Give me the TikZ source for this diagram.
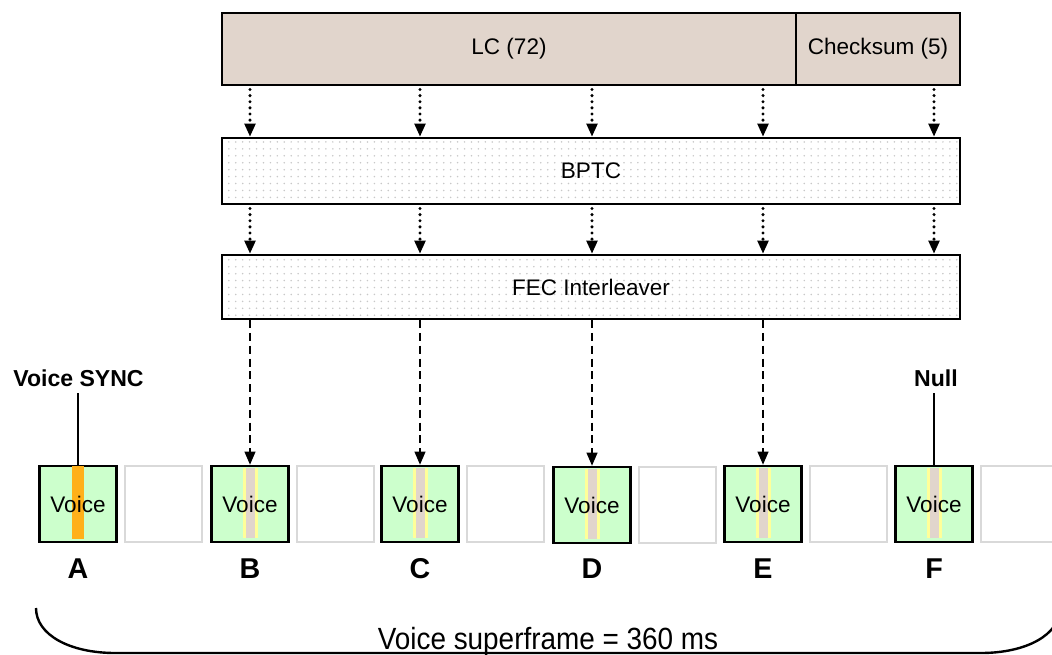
\documentclass[tikz,border=0pt]{standalone}
\usepackage{fontspec}
\setmainfont{Liberation Sans}
\usetikzlibrary{arrows.meta,patterns.meta,calc}
\definecolor{taupe}{HTML}{E1D5CC}
\definecolor{vgreen}{HTML}{CCFFCC}
\definecolor{sorange}{HTML}{FFB01A}
\definecolor{syellow}{HTML}{FFFF99}
\definecolor{lgray}{HTML}{D9D9D9}
\definecolor{dotgray}{HTML}{C8C8C8}
\begin{document}
\begin{tikzpicture}[x=0.75pt,y=-0.75pt,
 every node/.style={inner sep=0pt},
 lbl/.style={font=\fontsize{16.9}{20}\selectfont},
 fieldbox/.style={draw=black,line width=1.7pt,fill=taupe,minimum height=54pt,lbl},
 dotbox/.style={draw=black,line width=1.7pt,pattern={Dots[distance=5.2pt,radius=0.65pt]},pattern color=dotgray,minimum width=553.5pt,lbl},
 voicebox/.style={draw=black,line width=1.7pt,fill=vgreen,minimum width=57.75pt,minimum height=57pt},
 emptybox/.style={draw=lgray,line width=1.7pt,fill=white,minimum width=57.75pt,minimum height=57pt},
 syncstripe/.style={fill=sorange,minimum width=9pt,minimum height=54.5pt,anchor=north},
 nullhalo/.style={fill=syellow,minimum width=11.25pt,minimum height=52.5pt,anchor=north},
 nullstripe/.style={fill=taupe,minimum width=6.75pt,minimum height=52.5pt,anchor=north},
 voicetxt/.style={lbl},
 slotlbl/.style={font=\fontsize{21.5}{24}\selectfont\bfseries,anchor=base},
 calltxt/.style={font=\fontsize{17.3}{20}\selectfont\bfseries,anchor=base},
 dotarrow/.style={line width=2.5pt,line cap=round,dash pattern=on 0pt off 4.6pt,shorten <=2.5pt,-{Triangle[width=8pt,length=10pt]}},
 dasharrow/.style={line width=1.8pt,dash pattern=on 6pt off 3.6pt,-{Triangle[width=8pt,length=10pt]}},
 callout/.style={line width=1.5pt},
 brace/.style={line width=1.8pt}
]
\useasboundingbox (0,0) rectangle (1052,655);
\clip (0,0) rectangle (1052,655);

% top fields
\node[fieldbox,minimum width=430.5pt] (lc) at (509,49) {LC (72)};
\node[fieldbox,minimum width=123pt] (cs) at (878,49) {Checksum (5)};
\node[dotbox,minimum height=49.5pt] (bptc) at (591,171) {BPTC};
\node[dotbox,minimum height=48pt] (fec) at (591,287) {FEC Interleaver};

% voice bursts
\foreach \n/\x/\y in {A/78/504,B/250/504,C/420/504,D/592/505,E/763/504,F/934/504}{
  \node[voicebox] (v\n) at (\x,\y) {};
  \node[emptybox] (g\n) at (\x+85.5,\y) {};
  \node[slotlbl] (l\n) at (\x,578) {\n};
}
\node[syncstripe] (sA) at ([yshift=-0.9pt]vA.north) {};
\foreach \n in {B,C,D,E,F}{
  \node[nullhalo] (h\n) at ([yshift=-2.2pt]v\n.north) {};
  \node[nullstripe] (s\n) at ([yshift=-2.2pt]v\n.north) {};
}
\foreach \n in {A,B,C,D,E,F}{
  \node[voicetxt] (t\n) at (v\n) {Voice};
}

% arrows
\foreach \n in {B,C,D,E}{
  \draw[dotarrow] (lc.south -| v\n.north) -- (bptc.north -| v\n.north);
  \draw[dotarrow] (bptc.south -| v\n.north) -- (fec.north -| v\n.north);
  \draw[dasharrow] (fec.south -| v\n.north) -- (v\n.north);
}
\draw[dotarrow] (cs.south -| vF.north) -- (bptc.north -| vF.north);
\draw[dotarrow] (bptc.south -| vF.north) -- (fec.north -| vF.north);

% callouts
\node[calltxt] (sync) at (78.5,386.5) {Voice SYNC};
\node[calltxt] (null) at (936,386.5) {Null};
\coordinate (syncfoot) at ([yshift=-4.9pt]sync.base);
\coordinate (nullfoot) at ([yshift=-4.9pt]null.base);
\draw[callout] (syncfoot -| vA.north) -- (vA.north);
\draw[callout] (nullfoot -| vF.north) -- (vF.north);

% superframe brace
\draw[brace] (36,608) .. controls (36,635) and (70,653) .. (115,653) -- (981,653) .. controls (1026,653) and (1060,635) .. (1060,608);
\node[anchor=base,font=\fontsize{23}{26}\selectfont] (sf) at (548,649) {\scalebox{0.91}[1]{Voice superframe = 360 ms}};
\end{tikzpicture}
\end{document}
